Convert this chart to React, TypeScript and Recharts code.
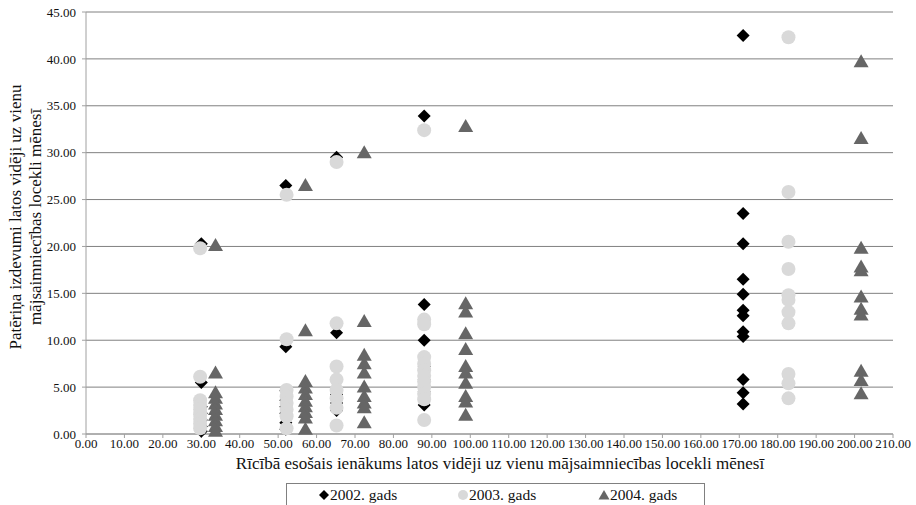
import { CartesianGrid, Label, Legend, Scatter, ScatterChart, XAxis, YAxis } from "recharts";

type Pt = { x: number; y: number };

// average income per household member (x) and consumption spending (y), lats per month
const gads2002: Pt[] = [
  { x: 30.0, y: 20.3 }, { x: 30.0, y: 5.5 }, { x: 30.0, y: 2.9 }, { x: 30.0, y: 2.2 }, { x: 30.0, y: 1.5 }, { x: 30.0, y: 0.8 }, { x: 30.0, y: 0.3 },
  { x: 52.0, y: 26.5 }, { x: 52.0, y: 9.3 }, { x: 52.0, y: 4.6 }, { x: 52.0, y: 3.6 }, { x: 52.0, y: 2.9 }, { x: 52.0, y: 2.2 }, { x: 52.0, y: 1.2 }, { x: 52.0, y: 0.5 },
  { x: 65.2, y: 29.5 }, { x: 65.2, y: 10.8 }, { x: 65.2, y: 4.2 }, { x: 65.2, y: 3.3 }, { x: 65.2, y: 2.5 },
  { x: 88.0, y: 33.9 }, { x: 88.0, y: 13.8 }, { x: 88.0, y: 10.0 }, { x: 88.0, y: 7.2 }, { x: 88.0, y: 5.8 }, { x: 88.0, y: 4.5 }, { x: 88.0, y: 3.1 },
  { x: 171.0, y: 42.5 }, { x: 171.0, y: 23.5 }, { x: 171.0, y: 20.3 }, { x: 171.0, y: 16.5 }, { x: 171.0, y: 14.9 }, { x: 171.0, y: 13.2 },
  { x: 171.0, y: 12.6 }, { x: 171.0, y: 10.9 }, { x: 171.0, y: 10.4 }, { x: 171.0, y: 5.8 }, { x: 171.0, y: 4.4 }, { x: 171.0, y: 3.2 },
];

const gads2003: Pt[] = [
  { x: 29.7, y: 19.8 }, { x: 29.7, y: 6.1 }, { x: 29.7, y: 3.6 }, { x: 29.7, y: 3.1 }, { x: 29.7, y: 2.6 }, { x: 29.7, y: 2.1 }, { x: 29.7, y: 1.6 }, { x: 29.7, y: 1.1 }, { x: 29.7, y: 0.6 },
  { x: 52.2, y: 25.5 }, { x: 52.2, y: 10.1 }, { x: 52.2, y: 4.7 }, { x: 52.2, y: 4.0 }, { x: 52.2, y: 3.3 }, { x: 52.2, y: 2.6 }, { x: 52.2, y: 1.9 }, { x: 52.2, y: 0.6 },
  { x: 65.2, y: 29.0 }, { x: 65.2, y: 11.8 }, { x: 65.2, y: 7.2 }, { x: 65.2, y: 5.8 }, { x: 65.2, y: 4.7 }, { x: 65.2, y: 3.8 }, { x: 65.2, y: 2.8 }, { x: 65.2, y: 0.9 },
  { x: 88.0, y: 32.4 }, { x: 88.0, y: 12.2 }, { x: 88.0, y: 11.7 }, { x: 88.0, y: 8.2 }, { x: 88.0, y: 7.5 }, { x: 88.0, y: 6.8 }, { x: 88.0, y: 6.2 },
  { x: 88.0, y: 5.6 }, { x: 88.0, y: 5.0 }, { x: 88.0, y: 4.3 }, { x: 88.0, y: 3.7 }, { x: 88.0, y: 1.5 },
  { x: 182.8, y: 42.3 }, { x: 182.8, y: 25.8 }, { x: 182.8, y: 20.5 }, { x: 182.8, y: 17.6 }, { x: 182.8, y: 14.8 }, { x: 182.8, y: 14.3 },
  { x: 182.8, y: 13.0 }, { x: 182.8, y: 11.8 }, { x: 182.8, y: 6.4 }, { x: 182.8, y: 5.4 }, { x: 182.8, y: 3.8 },
];

const gads2004: Pt[] = [
  { x: 33.7, y: 20.1 }, { x: 33.7, y: 6.5 }, { x: 33.7, y: 4.4 }, { x: 33.7, y: 3.8 }, { x: 33.7, y: 3.2 }, { x: 33.7, y: 2.6 }, { x: 33.7, y: 2.0 }, { x: 33.7, y: 1.4 }, { x: 33.7, y: 0.8 }, { x: 33.7, y: 0.3 },
  { x: 57.1, y: 26.5 }, { x: 57.1, y: 11.0 }, { x: 57.1, y: 5.6 }, { x: 57.1, y: 4.9 }, { x: 57.1, y: 4.2 }, { x: 57.1, y: 3.5 }, { x: 57.1, y: 2.9 }, { x: 57.1, y: 2.3 }, { x: 57.1, y: 1.7 }, { x: 57.1, y: 0.5 },
  { x: 72.4, y: 30.0 }, { x: 72.4, y: 12.0 }, { x: 72.4, y: 8.4 }, { x: 72.4, y: 7.5 }, { x: 72.4, y: 6.5 }, { x: 72.4, y: 5.0 }, { x: 72.4, y: 4.0 }, { x: 72.4, y: 3.3 }, { x: 72.4, y: 2.8 }, { x: 72.4, y: 1.2 },
  { x: 98.8, y: 32.8 }, { x: 98.8, y: 13.9 }, { x: 98.8, y: 13.0 }, { x: 98.8, y: 10.7 }, { x: 98.8, y: 9.0 }, { x: 98.8, y: 7.2 }, { x: 98.8, y: 6.5 },
  { x: 98.8, y: 5.4 }, { x: 98.8, y: 4.0 }, { x: 98.8, y: 3.4 }, { x: 98.8, y: 2.0 },
  { x: 201.7, y: 39.7 }, { x: 201.7, y: 31.5 }, { x: 201.7, y: 19.8 }, { x: 201.7, y: 17.8 }, { x: 201.7, y: 17.4 }, { x: 201.7, y: 14.6 },
  { x: 201.7, y: 13.3 }, { x: 201.7, y: 12.7 }, { x: 201.7, y: 6.7 }, { x: 201.7, y: 5.7 }, { x: 201.7, y: 4.3 },
];

const xTicks = [0, 10, 20, 30, 40, 50, 60, 70, 80, 90, 100, 110, 120, 130, 140, 150, 160, 170, 180, 190, 200, 210];
const yTicks = [0, 5, 10, 15, 20, 25, 30, 35, 40, 45];

const seriesNames = ["2002. gads", "2003. gads", "2004. gads"];
const xTitle = "Rīcībā esošais ienākums latos vidēji uz vienu mājsaimniecības locekli mēnesī";
const yTitle = ["Patēriņa izdevumi latos vidēji uz vienu", "mājsaimniecības locekli mēnesī"];

const FONT = "Liberation Serif, Times New Roman, serif";

const diamond = (props: any) => {
  const { cx, cy } = props;
  const r = 6.5;
  return <path d={`M${cx},${cy - r}L${cx + r},${cy}L${cx},${cy + r}L${cx - r},${cy}Z`} fill="#000000" />;
};

const circle = (props: any) => <circle cx={props.cx} cy={props.cy} r={7} fill="#d9d9d9" />;

const triangle = (props: any) => {
  const { cx, cy } = props;
  return <path d={`M${cx},${cy - 7.5}L${cx + 7.5},${cy + 5.5}L${cx - 7.5},${cy + 5.5}Z`} fill="#666666" />;
};

function LegendBox() {
  const items = [
    { name: seriesNames[0], left: 31, icon: <path d="M6,1L11,6L6,11L1,6Z" fill="#000" /> },
    { name: seriesNames[1], left: 170, icon: <circle cx={6} cy={6} r={5} fill="#d9d9d9" /> },
    { name: seriesNames[2], left: 311, icon: <path d="M6,1L11.5,10.5L0.5,10.5Z" fill="#666" /> },
  ];
  return (
    <div
      style={{
        position: "relative",
        width: 419,
        height: 22,
        boxSizing: "border-box",
        borderTop: "1px solid #808080",
        borderLeft: "1px solid #808080",
        borderRight: "1px solid #808080",
        fontFamily: FONT,
        fontSize: 15.5,
        color: "#111",
      }}
    >
      {items.map((it) => (
        <div key={it.name} style={{ position: "absolute", left: it.left, top: 2, height: 18, display: "flex", alignItems: "center", whiteSpace: "nowrap", lineHeight: "18px" }}>
          <svg width={12} height={12} style={{ marginRight: 0 }}>{it.icon}</svg>
          <span>{it.name}</span>
        </div>
      ))}
    </div>
  );
}

export default function App() {
  return (
    <div style={{ position: "absolute", left: 0, top: 0, width: 916, height: 505, overflow: "hidden", background: "#fff" }}>
      <ScatterChart width={916} height={505} margin={{ top: 12, right: 23, bottom: 0, left: 0 }}>
        <CartesianGrid vertical={false} stroke="#808080" />
        <XAxis
          type="number"
          dataKey="x"
          domain={[0, 210]}
          ticks={xTicks}
          interval={0}
          tickFormatter={(v: number) => v.toFixed(2)}
          tick={{ fill: "#111", fontSize: 13, fontFamily: FONT }}
          tickSize={4}
          tickMargin={1}
          stroke="#a0a0a0"
          height={49}
        >
          <Label
            content={() => (
              <text x={500} y={469} textAnchor="middle" fontFamily={FONT} fontSize={17} fill="#111">
                {xTitle}
              </text>
            )}
          />
        </XAxis>
        <YAxis
          type="number"
          dataKey="y"
          domain={[0, 45]}
          ticks={yTicks}
          interval={0}
          tickFormatter={(v: number) => v.toFixed(2)}
          tick={{ fill: "#111", fontSize: 13, fontFamily: FONT }}
          tickSize={4}
          tickMargin={6}
          stroke="#a0a0a0"
          width={86}
        >
          <Label
            content={() => (
              <g>
                {yTitle.map((line, i) => (
                  <text key={line} transform="rotate(-90)" x={-217} y={21 + i * 20} textAnchor="middle" fontFamily={FONT} fontSize={17} fill="#111">
                    {line}
                  </text>
                ))}
              </g>
            )}
          />
        </YAxis>
        <Legend
          verticalAlign="bottom"
          wrapperStyle={{ left: 286, width: 419, height: 22 }}
          content={() => <LegendBox />}
        />
        <Scatter name={seriesNames[0]} data={gads2002} shape={diamond} isAnimationActive={false} />
        <Scatter name={seriesNames[1]} data={gads2003} shape={circle} isAnimationActive={false} />
        <Scatter name={seriesNames[2]} data={gads2004} shape={triangle} isAnimationActive={false} />
      </ScatterChart>
    </div>
  );
}
